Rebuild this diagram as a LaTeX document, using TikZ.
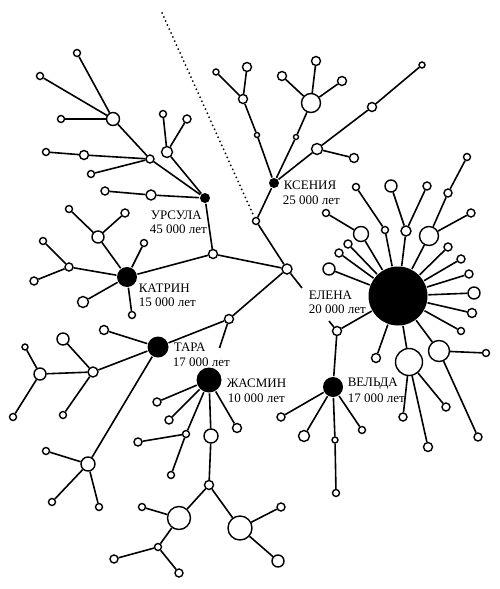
\documentclass[tikz,border=0pt]{standalone}
\usepackage{fontspec}
\setmainfont{Liberation Serif}
\usetikzlibrary{positioning}

\begin{document}
\begin{tikzpicture}[x=1pt,y=-1pt,line width=1.6pt]
\tikzset{hap/.style={circle,draw,fill=white,line width=1.4pt,inner sep=0pt,minimum size=#1pt}}
\tikzset{clan/.style={circle,fill=black,inner sep=0pt,minimum size=#1pt}}
\tikzset{who/.style={font=\fontsize{13}{15}\selectfont,anchor=base west,inner sep=0pt}}
\tikzset{trail/.style={line width=2pt,line cap=round,dash pattern=on 0pt off 4.4pt}}
\useasboundingbox (0,0) rectangle (500,589);
\foreach \nm/\x/\y/\d in {urs/205/198/10, ksn/274/183/10, kat/127/277/20, tar/158/347/21,
  jas/209/380/25, vel/333/387/20, ele/398/296/59}
  \node[clan=\d] (\nm) at (\x,\y) {};
\foreach \nm/\x/\y/\d in {root/287/269/10, x1/256/221/7, x2/213/254/9, x3/229/319/9, x4/337/331/9,
  u1/151/195/10, u2/105/191/8, u3/167/152/11, u4/163/114/7, u5/187/119/8, u6/150/159/8,
  u7/84/155/9, u8/46/152/7, u9/91/174/7, u10/113/119/13, u11/77/53/7, u12/40/76/7, u13/61/119/7,
  k1/257/135/5, k2/243/99/9, k3/247/67/9, k4/216/72/6, k5/296/137/5, k6/311/103/19,
  k7/282/76/9, k8/316/61/9, k9/342/81/9, k10/317/149/11, k11/354/158/9, k12/372/107/9, k13/422/65/6,
  t1/98/237/12, t2/69/209/7, t3/125/213/8, t4/144/243/7, t5/69/267/8, t6/43/241/7,
  t7/34/281/8, t8/83/302/11, t9/132/315/7,
  r1/104/330/9, r2/93/372/10, r3/63/339/12, r4/63/415/7, r5/40/374/12, r6/25/347/6,
  r7/13/417/7, r8/88/464/14, r9/46/451/7, r10/52/502/7, r11/99/507/7,
  j1/157/402/8, j2/169/420/8, j3/186/434/7, j4/138/442/8, j5/171/475/7, j6/211/436/14,
  j7/237/428/9, j8/209/485/9, j9/179/518/23, j10/240/528/24, j11/142/507/7, j12/158/547/7,
  j13/114/559/8, j14/179/573/8, j15/281/507/8, j16/278/561/12,
  v1/281/417/8, v2/304/436/11, v3/362/430/7, v4/335/440/6, v5/336/493/7,
  e1/329/269/12, e2/339/253/8, e3/348/244/8, e4/361/234/15, e5/326/213/7, e6/385/230/7,
  e7/356/187/7, e8/406/231/10, e9/391/186/12, e10/427/186/8, e11/429/236/19, e12/448/193/8,
  e13/467/157/7, e14/471/213/8, e15/448/247/8, e16/461/259/8, e17/469/274/8, e18/474/293/12,
  e19/472/313/9, e20/461/331/7, e21/439/351/21, e22/486/353/7, e23/478/437/8, e24/409/362/27,
  e25/403/417/8, e26/428/447/9, e27/446/407/8, e28/376/358/9}
  \node[hap=\d] (\nm) at (\x,\y) {};
\foreach \a/\b in {root/x1, root/x2, root/x3, x1/ksn, x2/urs, x2/kat, x3/tar, x4/ele, x4/vel,
  urs/u1, u1/u2, urs/u3, u3/u4, u3/u5, urs/u6, u6/u10, u10/u11, u10/u12, u10/u13, u6/u7, u7/u8, u6/u9,
  ksn/k1, k1/k2, k2/k3, k2/k4, ksn/k5, k5/k6, k6/k7, k6/k8, k6/k9, ksn/k10, k10/k11, k10/k12, k12/k13,
  kat/t1, t1/t2, t1/t3, kat/t4, kat/t5, t5/t6, t5/t7, kat/t8, kat/t9,
  tar/r1, tar/r2, r2/r3, r2/r4, r2/r5, r5/r6, r5/r7, tar/r8, r8/r9, r8/r10, r8/r11,
  jas/j1, jas/j2, jas/j3, j3/j4, j3/j5, jas/j6, j6/j8, j8/j9, j8/j10, j9/j11, j9/j12,
  j12/j13, j12/j14, j10/j15, j10/j16, jas/j7,
  vel/v1, vel/v2, vel/v3, vel/v4, v4/v5,
  ele/e1, ele/e2, ele/e3, ele/e4, e4/e5, ele/e6, e6/e7, ele/e8, e8/e9, e8/e10, ele/e11,
  e11/e12, e12/e13, e11/e14, ele/e15, ele/e16, ele/e17, ele/e18, ele/e19, ele/e20, ele/e21,
  e21/e22, e21/e23, ele/e24, e24/e25, e24/e26, e24/e27, ele/e28}
  \draw (\a) -- (\b);
\coordinate (eleCut1) at (302,288);
\coordinate (eleCut2) at (329,321);
\coordinate (tarCut) at (219.5,348);
\coordinate (trailTop) at (162,13);
\draw (root) -- (eleCut1);
\draw (eleCut2) -- (x4);
\draw (x3) -- (tarCut);
\draw[trail] (trailTop) -- (x1);
\foreach \nm/\x/\y/\txt in {ursName/150/219/УРСУЛА, ursAge/149/233/45 000 лет,
  ksnName/283/189/КСЕНИЯ, ksnAge/282/204/25 000 лет,
  katName/138/292/КАТРИН, katAge/138/306/15 000 лет,
  tarName/173/351/ТАРА, tarAge/172/366/17 000 лет,
  jasName/226/387/ЖАСМИН, jasAge/227/402/10 000 лет,
  eleName/308/299/ЕЛЕНА, eleAge/308/313/20 000 лет,
  velName/347/386/ВЕЛЬДА, velAge/347/402/17 000 лет}
  \node[who] (\nm) at (\x,\y) {\txt};
\end{tikzpicture}
\end{document}
